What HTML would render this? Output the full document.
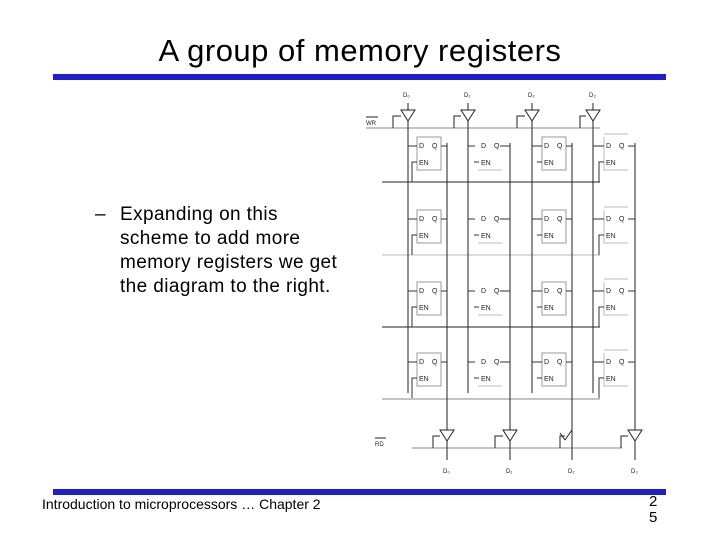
<!DOCTYPE html>
<html><head><style>
body{margin:0;width:720px;height:540px;background:#fff;position:relative;overflow:hidden;font-family:"Liberation Sans",sans-serif}
.t{position:absolute;white-space:nowrap;color:#000}
</style></head><body>
<div class="t" style="left:0;width:720px;text-align:center;top:33px;font-size:31px;letter-spacing:0.5px">A group of memory registers</div>
<div style="position:absolute;left:53px;top:74px;width:613px;height:6px;background:#1f1fd0"></div>
<div class="t" style="left:95px;top:203px;font-size:19px;line-height:24px">–</div>
<div class="t" style="left:120px;top:203px;font-size:19px;line-height:24px;letter-spacing:0.4px">Expanding on this<br>scheme to add more<br>memory registers we get<br>the diagram to the right.</div>
<div style="position:absolute;left:53px;top:489px;width:613px;height:6px;background:#1f1fd0"></div>
<div class="t" style="left:42px;top:496px;font-size:14px;letter-spacing:0px">Introduction to microprocessors … Chapter 2</div>
<div class="t" style="left:649px;top:494px;font-size:15px;line-height:16px">2<br>5</div>
<svg style="position:absolute;left:0;top:0" width="720" height="540" font-family="Liberation Sans" font-size="7">
<g stroke="#222" stroke-width="1" fill="none">
<line x1="366" y1="128" x2="600" y2="128" stroke="#888"/>
<line x1="382" y1="182" x2="600" y2="182"/>
<line x1="382" y1="255" x2="600" y2="255" stroke="#bbb"/>
<line x1="382" y1="327" x2="600" y2="327"/>
<line x1="382" y1="399" x2="600" y2="399" stroke="#888"/>
<line x1="412" y1="448" x2="622" y2="448" stroke="#888"/>
</g>
<g stroke="#222" fill="none">
<line x1="408" y1="103" x2="408" y2="393"/><line x1="468" y1="103" x2="468" y2="393"/>
<line x1="532" y1="103" x2="532" y2="393"/><line x1="593" y1="103" x2="593" y2="393"/>
<line x1="447" y1="143" x2="447" y2="460"/><line x1="510" y1="143" x2="510" y2="460"/>
<line x1="572" y1="143" x2="572" y2="460"/><line x1="635" y1="143" x2="635" y2="460"/>
<g fill="#fff">
<path d="M401 110 L415 110 L408 121 Z"/><path d="M461 110 L475 110 L468 121 Z"/>
<path d="M525 110 L539 110 L532 121 Z"/><path d="M586 110 L600 110 L593 121 Z"/>
<path d="M440 430 L454 430 L447 441 Z"/><path d="M503 430 L517 430 L510 441 Z"/>
<path d="M628 430 L642 430 L635 441 Z"/>
</g>
<path d="M565 440 L572 430 M565 440 L560 433" />
<path d="M393 128 V116 H401"/><path d="M454 128 V116 H461"/><path d="M517 128 V116 H525"/><path d="M580 128 V116 H586"/>
<path d="M433 448 V436 H440"/><path d="M495 448 V436 H503"/><path d="M560 448 V436 H565"/><path d="M621 448 V436 H628"/>
</g>
<g id="row">
<g stroke="#333" fill="none">
<rect x="417" y="137" width="24" height="33" stroke="#999"/>
<rect x="542" y="137" width="24" height="33" stroke="#999"/>
<line x1="478" y1="170" x2="502" y2="170" stroke="#bbb"/>
<path d="M604 134 H628 M604 137 V170 H628" stroke="#bbb"/>
<path d="M408 146 H417 M441 146 H447 M468 146 H475 M500 146 H510 M532 146 H542 M566 146 H572 M593 146 H604 M628 146 H635"/>
<path d="M412 182 V162 H417 M474 162 H479 M537 162 H542 M599 182 V162 H604"/>
</g>
<g font-size="7" fill="#222">
<text x="419" y="148">D</text><text x="432" y="148">Q</text><text x="419" y="165">EN</text>
<text x="481" y="148">D</text><text x="494" y="148">Q</text><text x="481" y="165">EN</text>
<text x="544" y="148">D</text><text x="557" y="148">Q</text><text x="544" y="165">EN</text>
<text x="606" y="148">D</text><text x="619" y="148">Q</text><text x="606" y="165">EN</text>
</g>
</g>
<use href="#row" y="73"/><use href="#row" y="145"/><use href="#row" y="216"/>
<g font-size="6" fill="#222">
<text x="403" y="97">D₀</text><text x="464" y="97">D₁</text><text x="528" y="97">D₂</text><text x="589" y="97">D₃</text>
<text x="366" y="125">WR</text><line x1="366" y1="117" x2="378" y2="117" stroke="#222"/>
<text x="375" y="446">RD</text><line x1="375" y1="438" x2="386" y2="438" stroke="#222"/>
<text x="443" y="473">D₀</text><text x="506" y="473">D₁</text><text x="568" y="473">D₂</text><text x="631" y="473">D₃</text>
</g>
</svg>
</body></html>
